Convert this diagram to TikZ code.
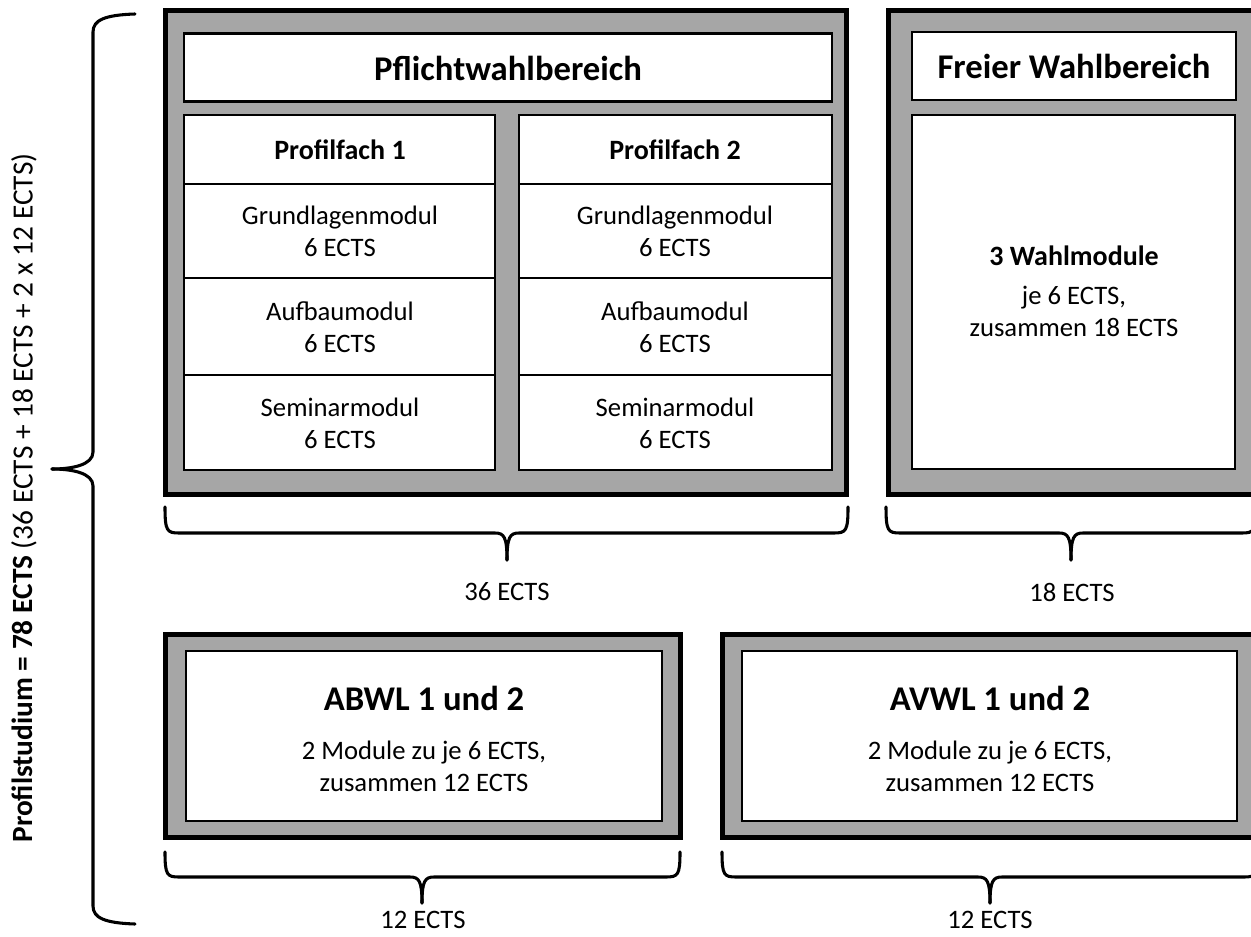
\documentclass[tikz,border=0pt]{standalone}
\usepackage{fontspec}
\setmainfont{Carlito}
\definecolor{boxgray}{HTML}{A6A6A6}
\begin{document}
\begin{tikzpicture}[x=0.75pt,y=-0.75pt,
  outerbox/.style={draw=black, fill=boxgray, line width=3.75pt},
  innerbox/.style={draw=black, fill=white, line width=1.9pt},
  rowline/.style={draw=black, line width=1.5pt},
  brace/.style={draw=black, line width=2.3pt, line cap=round},
  body/.style={font=\fontsize{20}{24}\selectfont, align=center, inner sep=0pt},
  bighead/.style={font=\fontsize{26}{30}\selectfont\bfseries, align=center, inner sep=0pt},
  midhead/.style={font=\fontsize{26}{30}\selectfont\bfseries, align=center, inner sep=0pt},
  smallhead/.style={font=\fontsize{21}{24}\selectfont\bfseries, align=center, inner sep=0pt},
  sidelabel/.style={font=\fontsize{22}{26}\selectfont, align=center, inner sep=0pt}]
\useasboundingbox (0,0) rectangle (1251,937);
\clip (0,0) rectangle (1251,937);

% ---- Pflichtwahlbereich ----
\draw[outerbox] (165.5,10.5) rectangle (846,494);
\draw[innerbox] (184,33.5) rectangle (832,101.5);
\node[bighead] (pw) at (508,68) {Pflichtwahlbereich};
\draw[innerbox] (184,115) rectangle (495,470);
\draw[innerbox] (519,115) rectangle (832,470);
\foreach \yy in {184,278,375}{
  \draw[rowline] (184,\yy) -- (495,\yy);
  \draw[rowline] (519,\yy) -- (832,\yy);
}
\node[smallhead] (pf1) at (340,150) {Profilfach 1};
\node[smallhead] (pf2) at (675,150) {Profilfach 2};
\node[body] (g1) at (340,231) {Grundlagenmodul\\6 ECTS};
\node[body] (a1) at (340,327) {Aufbaumodul\\6 ECTS};
\node[body] (s1) at (340,423) {Seminarmodul\\6 ECTS};
\node[body] (g2) at (675,231) {Grundlagenmodul\\6 ECTS};
\node[body] (a2) at (675,327) {Aufbaumodul\\6 ECTS};
\node[body] (s2) at (675,423) {Seminarmodul\\6 ECTS};

% ---- Freier Wahlbereich ----
\draw[outerbox] (888.5,10.5) rectangle (1257,494);
\draw[innerbox] (912,32) rectangle (1236,100);
\node[bighead] (fw) at (1074,66) {Freier Wahlbereich};
\draw[innerbox] (912,115) rectangle (1235,469);
\node[smallhead] (wm) at (1074,256) {3 Wahlmodule};
\node[body] (wmt) at (1074,311) {je 6 ECTS,\\zusammen 18 ECTS};

% ---- ABWL ----
\draw[outerbox] (165.5,634) rectangle (680,837);
\draw[innerbox] (186,651) rectangle (662,821);
\node[midhead] (abwl) at (424,698) {ABWL 1 und 2};
\node[body] (abwlt) at (424,766) {2 Module zu je 6 ECTS,\\zusammen 12 ECTS};

% ---- AVWL ----
\draw[outerbox] (722,634) rectangle (1258,837);
\draw[innerbox] (742,651) rectangle (1237,821);
\node[midhead] (avwl) at (990,698) {AVWL 1 und 2};
\node[body] (avwlt) at (990,766) {2 Module zu je 6 ECTS,\\zusammen 12 ECTS};

% ---- horizontal braces ----
\foreach \L/\R/\T/\ya/\yb/\yc in {165/848/507/507/533/560, 886/1256/1071/507/533/560, 165/680/422/852/877/903, 722/1258/990/852/877/903}{
  \draw[brace] (\L,\ya) .. controls (\L,\yb-2) and (\L+2,\yb) .. (\L+14,\yb) -- (\T-12,\yb) .. controls (\T-3,\yb) and (\T,\yb+4) .. (\T,\yc);
  \draw[brace] (\R,\ya) .. controls (\R,\yb-2) and (\R-2,\yb) .. (\R-14,\yb) -- (\T+12,\yb) .. controls (\T+3,\yb) and (\T,\yb+4) .. (\T,\yc);
}
\node[body] (e36) at (507,592) {36 ECTS};
\node[body] (e18) at (1072,592) {18 ECTS};
\node[body] (e12a) at (423,920) {12 ECTS};
\node[body] (e12b) at (990,920) {12 ECTS};

% ---- big left brace ----
\coordinate (btop) at (135,14);
\coordinate (bbot) at (135,924);
\coordinate (btip) at (52,469);
\draw[brace] (btop) .. controls (105,15) and (93,20) .. (93,32) -- (93,452) .. controls (93,465) and (72,469) .. (btip);
\draw[brace] (bbot) .. controls (105,923) and (93,918) .. (93,906) -- (93,486) .. controls (93,473) and (72,469) .. (btip);
\node[sidelabel, rotate=90] (total) at (24,498) {\textbf{Profilstudium = 78 ECTS} (36 ECTS + 18 ECTS + 2 x 12 ECTS)};
\end{tikzpicture}
\end{document}
